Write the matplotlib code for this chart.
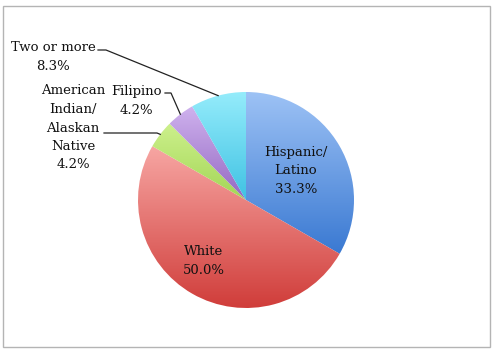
import numpy as np
import matplotlib
matplotlib.use("Agg")
import matplotlib.pyplot as plt
from matplotlib.colors import LinearSegmentedColormap
from matplotlib.patches import Rectangle

labels = ["Hispanic/\nLatino", "White", "American\nIndian/\nAlaskan\nNative", "Filipino", "Two or more"]
values = [33.3, 50.0, 4.2, 4.2, 8.3]
pct_text = ["33.3%", "50.0%", "4.2%", "4.2%", "8.3%"]
# gradient colours (top, bottom) for each slice
grad_top = ["#9dc2f5", "#f7a6a3", "#cdf08c", "#cfb2ee", "#95ecfb"]
grad_bot = ["#3a79d2", "#d03d3a", "#a3d656", "#9468c2", "#3fc2e3"]

W, H = 492, 355
fig = plt.figure(figsize=(W / 100, H / 100), dpi=100)
ax = fig.add_axes([0, 0, 1, 1])

cx, cy, r = 246, 155, 108
wedges, _ = ax.pie(values, startangle=90, counterclock=False, center=(cx, cy),
                   radius=r, wedgeprops=dict(linewidth=0, edgecolor="none"),
                   frame=True)
ax.set_xlim(0, W)
ax.set_ylim(0, H)
ax.set_aspect("equal")
ax.axis("off")

grad = np.linspace(0, 1, 256).reshape(-1, 1)
for w, ct, cb in zip(wedges, grad_top, grad_bot):
    w.set_facecolor("none")
    ext = w.get_path().get_extents()
    cmap = LinearSegmentedColormap.from_list("g", [cb, ct])
    im = ax.imshow(grad, cmap=cmap, aspect="auto", origin="lower",
                   extent=[ext.x0, ext.x1, ext.y0, ext.y1], zorder=1,
                   interpolation="bilinear")
    im.set_clip_path(w)

font = dict(family="DejaVu Serif", fontsize=9.5, color="#111111", linespacing=1.55)

# inside labels
ax.text(296, H - 171, labels[0] + "\n" + pct_text[0], ha="center", va="center",
        zorder=5, **font)
ax.text(204, H - 261, labels[1] + "\n" + pct_text[1], ha="center", va="center",
        zorder=5, **font)

# outside labels with leader lines
outside = {2: (73, H - 128, 104, H - 133, 157), 3: (136, H - 101, 165, H - 93, 171),
           4: (53, H - 57, 98, H - 50, 106)}
cum = np.cumsum([0] + values)
for i, (tx, ty, lx, ly, kx) in outside.items():
    ax.text(tx, ty, labels[i] + "\n" + pct_text[i], ha="center", va="center",
            zorder=5, **font)
    mid = np.deg2rad(90 - (cum[i] + values[i] / 2) / 100 * 360)
    px, py = cx + r * np.cos(mid), cy + r * np.sin(mid)
    ax.plot([lx, kx, px], [ly, ly, py], color="#222222", lw=0.9, zorder=4)

ax.add_patch(Rectangle((3, H - 347), 487, 341, fill=False, edgecolor="#b4b4b4",
                       lw=1.0, zorder=6))

fig.savefig("out.png", dpi=100)
